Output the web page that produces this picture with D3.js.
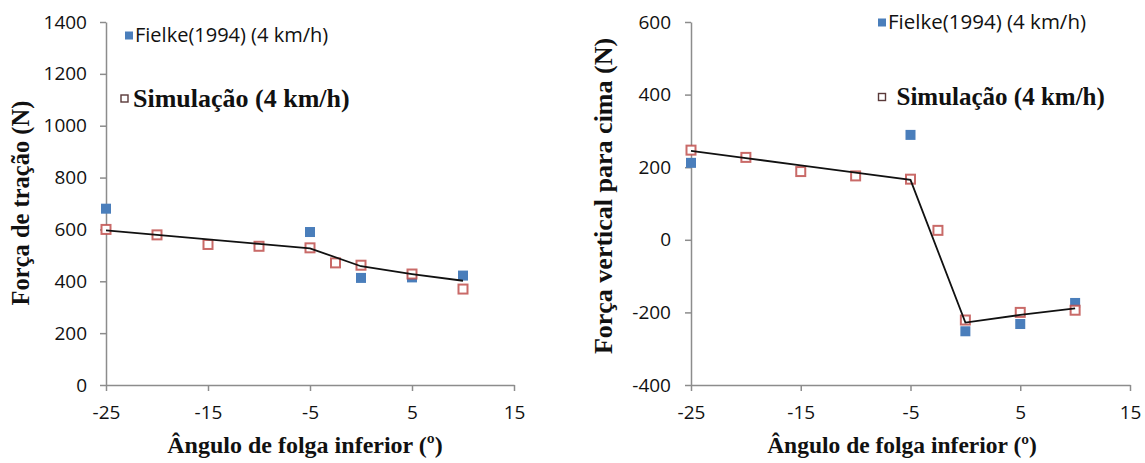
<!DOCTYPE html>
<html>
<head>
<meta charset="utf-8">
<script src="https://cdn.jsdelivr.net/npm/d3@7"></script>
<style>
  body { margin: 0; background: #fff; }
  svg { display: block; }
  .domain, .tick line { stroke: #8c8c8c; stroke-width: 1.5; }
  .tick text { font-family: "Open Sans", sans-serif; font-size: 19px; fill: #111; }
</style>
</head>
<body>
<div id="charts"></div>
<script>
// page size
const FRAME_WIDTH = 1145;
const FRAME_HEIGHT = 463;

// data
const X_TICKS = [-25, -15, -5, 5, 15];

const ANGLES_FIELKE = [-25, -5, 0, 5, 10];
const ANGLES_SIM = [-25, -20, -15, -10, -5, -2.5, 0, 5, 10];
const ANGLES_LINE = [-25, -20, -15, -10, -5, 0, 5, 10];

// left: força de tração
const TRACAO_TICKS = [0, 200, 400, 600, 800, 1000, 1200, 1400];
const TRACAO_FIELKE = [680, 590, 413, 415, 422];
const TRACAO_SIM = [600, 579, 542, 535, 529, 471, 462, 428, 370];
const TRACAO_LINE = [596, 579, 562, 544, 527, 458, 428, 402];

// right: força vertical para cima
const VERTICAL_TICKS = [-400, -200, 0, 200, 400, 600];
const VERTICAL_FIELKE = [212, 289, -252, -232, -174];
const VERTICAL_SIM = [247, 227, 188, 176, 167, 26, -221, -200, -194];
const VERTICAL_LINE = [245, 225, 205, 185, 165, -228, -207, -189];

const LEGEND_FIELKE = "Fielke(1994) (4 km/h)";
const LEGEND_SIM = "Simulação (4 km/h)";
const X_TITLE = "Ângulo de folga inferior (º)";

const BLUE = "#4a7ebb";
const PINK = "#c0504d";

const FRAME = d3.select("#charts")
                .append("svg")
                  .attr("width", FRAME_WIDTH)
                  .attr("height", FRAME_HEIGHT);

function zip(xs, ys) {
  return xs.map((x, i) => ({x: x, y: ys[i]}));
}

// plain numbers with an ascii minus, like excel
const plain = d => String(d);

// draws one panel
function drawChart(opt) {
  const x = d3.scaleLinear().domain([-25, 15]).range(opt.xRange);
  const y = d3.scaleLinear().domain(opt.yDomain).range([385, 22]);
  const g = FRAME.append("g");

  // axes
  g.append("g")
    .attr("transform", "translate(0," + y(opt.yDomain[0]) + ")")
    .call(d3.axisBottom(x).tickValues(X_TICKS).tickFormat(plain)
            .tickSize(6).tickSizeOuter(0).tickPadding(15));

  g.append("g")
    .attr("transform", "translate(" + x(-25) + ",0)")
    .call(d3.axisLeft(y).tickValues(opt.yTicks).tickFormat(plain)
            .tickSize(6).tickSizeOuter(0).tickPadding(opt.yPad));

  // Fielke points (filled blue squares)
  const s1 = 10;
  g.append("g").selectAll("rect")
    .data(zip(ANGLES_FIELKE, opt.fielke))
    .enter()
    .append("rect")
      .attr("x", d => x(d.x) - s1 / 2)
      .attr("y", d => y(d.y) - s1 / 2)
      .attr("width", s1)
      .attr("height", s1)
      .attr("fill", BLUE);

  // simulation points (hollow squares)
  const s2 = 9;
  g.append("g").selectAll("rect")
    .data(zip(ANGLES_SIM, opt.sim))
    .enter()
    .append("rect")
      .attr("x", d => x(d.x) - s2 / 2)
      .attr("y", d => y(d.y) - s2 / 2)
      .attr("width", s2)
      .attr("height", s2)
      .attr("fill", "#fff")
      .attr("stroke", PINK)
      .attr("stroke-opacity", 0.85)
      .attr("stroke-width", 2);

  // black line
  g.append("path")
    .datum(zip(ANGLES_LINE, opt.line))
    .attr("fill", "none")
    .attr("stroke", "#111")
    .attr("stroke-width", 1.8)
    .attr("d", d3.line().x(d => x(d.x)).y(d => y(d.y)));

  // legend
  const L = opt.legend;
  g.append("rect")
    .attr("x", L.fx - 4).attr("y", L.fy - 4)
    .attr("width", 8).attr("height", 8)
    .attr("fill", BLUE);
  g.append("text")
    .attr("x", L.fx + 6).attr("y", L.fy + 6.5)
    .attr("font-family", "Open Sans, sans-serif")
    .attr("font-size", L.fSize)
    .attr("fill", "#111")
    .text(LEGEND_FIELKE);

  g.append("rect")
    .attr("x", L.sx - 4).attr("y", L.sy - 3.5)
    .attr("width", 7).attr("height", 7)
    .attr("fill", "#fff")
    .attr("stroke", "#5a3a3a")
    .attr("stroke-width", 1.4);
  g.append("text")
    .attr("x", L.sx + L.sGap).attr("y", L.sy + 8)
    .attr("font-family", "Liberation Serif, serif")
    .attr("font-weight", "bold")
    .attr("font-size", L.sSize)
    .attr("fill", "#111")
    .text(LEGEND_SIM);

  // axis titles
  g.append("text")
    .attr("transform", "translate(" + opt.yTitle.x + "," + opt.yTitle.y + ") rotate(-90)")
    .attr("text-anchor", "middle")
    .attr("font-family", "Liberation Serif, serif")
    .attr("font-weight", "bold")
    .attr("font-size", opt.yTitle.size)
    .attr("fill", "#111")
    .text(opt.yTitle.text);

  g.append("text")
    .attr("x", opt.xTitle.x).attr("y", 453)
    .attr("text-anchor", "middle")
    .attr("font-family", "Liberation Serif, serif")
    .attr("font-weight", "bold")
    .attr("font-size", opt.xTitle.size)
    .attr("fill", "#111")
    .text(X_TITLE);
}

drawChart({
  xRange: [106, 514],
  yDomain: [0, 1400],
  yTicks: TRACAO_TICKS,
  yPad: 13,
  fielke: TRACAO_FIELKE,
  sim: TRACAO_SIM,
  line: TRACAO_LINE,
  legend: {fx: 129, fy: 35.5, fSize: 20, sx: 125, sy: 98.5, sGap: 8, sSize: 26},
  yTitle: {x: 29, y: 203, size: 24.5, text: "Força de tração (N)"},
  xTitle: {x: 305, size: 24}
});

drawChart({
  xRange: [691, 1130],
  yDomain: [-400, 600],
  yTicks: VERTICAL_TICKS,
  yPad: 14,
  fielke: VERTICAL_FIELKE,
  sim: VERTICAL_SIM,
  line: VERTICAL_LINE,
  legend: {fx: 882, fy: 22.5, fSize: 20.5, sx: 882.5, sy: 97, sGap: 14, sSize: 25},
  yTitle: {x: 612, y: 196, size: 26, text: "Força vertical para cima (N)"},
  xTitle: {x: 902, size: 23.5}
});
</script>
</body>
</html>
